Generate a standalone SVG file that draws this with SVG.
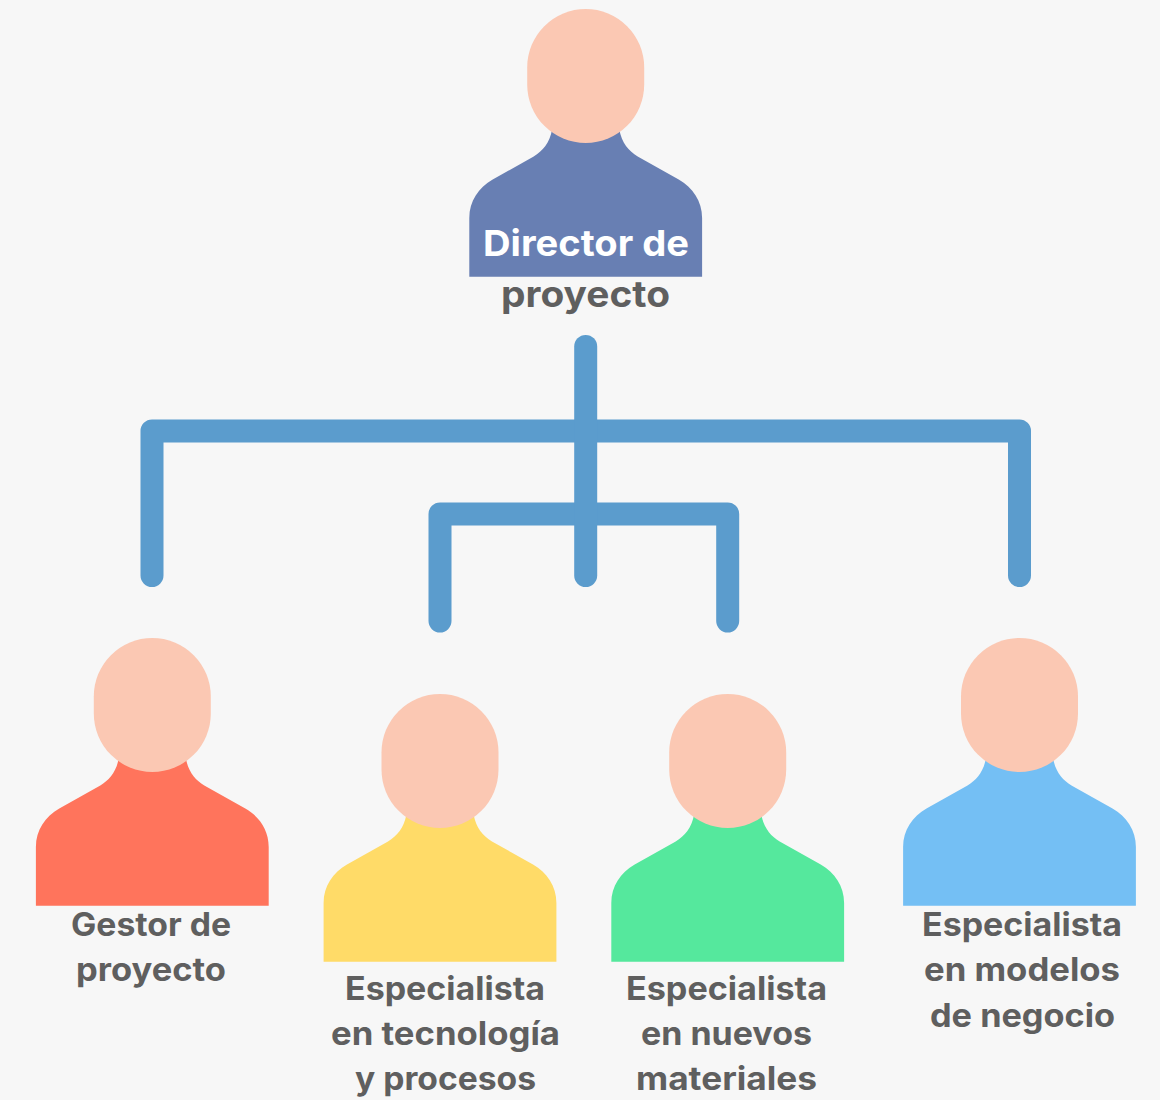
<svg xmlns="http://www.w3.org/2000/svg" width="1160" height="1100" viewBox="0 0 1160 1100">
<style>
.head{fill:#fbc8b3}
.t{font-family:"Inter","Noto Sans",sans-serif;font-weight:700;font-size:32px;fill:#5f5f5f}
.big{font-size:36px}
.w{fill:#fff}
.conn{fill:none;stroke:#5b9ccd;stroke-width:23;stroke-linecap:round;stroke-linejoin:round}
</style>
<defs>
<path id="body" d="M-33.5 120C-36 134-43 142-52 147.5L-93 170.5C-107 178.5-116.4 192-116.4 209V267.7H116.4V209C116.4 192 107 178.5 93 170.5L52 147.5C43 142 36 134 33.5 120Z"/>
<rect id="headshape" class="head" x="-58.5" y="0" width="117" height="134" rx="58.5" ry="58.5"/>
</defs>
<rect width="1160" height="1100" fill="#f7f7f7"/>
<g id="connectors" class="conn">
<path d="M152 575.5V431H1019.5V575.5"/>
<path d="M440 621V514H727.7V621"/>
<path d="M585.7 346.5V575.5"/>
</g>
<g id="node-director">
<use href="#body" x="585.7" y="9" fill="#687fb3"/>
<use href="#headshape" x="585.7" y="9"/>
<text class="t big w" x="483" y="256" textLength="206" lengthAdjust="spacingAndGlyphs">Director de</text>
<text class="t big" x="501" y="307" textLength="169" lengthAdjust="spacingAndGlyphs">proyecto</text>
</g>
<g id="node-gestor">
<use href="#body" x="152.3" y="638" fill="#ff745c"/>
<use href="#headshape" x="152.3" y="638"/>
<text class="t" x="71" y="936" textLength="160" lengthAdjust="spacingAndGlyphs">Gestor de</text>
<text class="t" x="76" y="981" textLength="150" lengthAdjust="spacingAndGlyphs">proyecto</text>
</g>
<g id="node-tecnologia">
<use href="#body" x="440" y="694" fill="#ffdb68"/>
<use href="#headshape" x="440" y="694"/>
<text class="t" x="345" y="1000" textLength="200" lengthAdjust="spacingAndGlyphs">Especialista</text>
<text class="t" x="331" y="1045" textLength="229" lengthAdjust="spacingAndGlyphs">en tecnología</text>
<text class="t" x="355" y="1089.5" textLength="181" lengthAdjust="spacingAndGlyphs">y procesos</text>
</g>
<g id="node-materiales">
<use href="#body" x="727.7" y="694" fill="#55e89d"/>
<use href="#headshape" x="727.7" y="694"/>
<text class="t" x="626" y="1000" textLength="201" lengthAdjust="spacingAndGlyphs">Especialista</text>
<text class="t" x="641" y="1045" textLength="171" lengthAdjust="spacingAndGlyphs">en nuevos</text>
<text class="t" x="636" y="1089.5" textLength="181" lengthAdjust="spacingAndGlyphs">materiales</text>
</g>
<g id="node-negocio">
<use href="#body" x="1019.5" y="638" fill="#74bff4"/>
<use href="#headshape" x="1019.5" y="638"/>
<text class="t" x="922" y="936" textLength="200" lengthAdjust="spacingAndGlyphs">Especialista</text>
<text class="t" x="924" y="981" textLength="196" lengthAdjust="spacingAndGlyphs">en modelos</text>
<text class="t" x="930" y="1027" textLength="185" lengthAdjust="spacingAndGlyphs">de negocio</text>
</g>
</svg>
